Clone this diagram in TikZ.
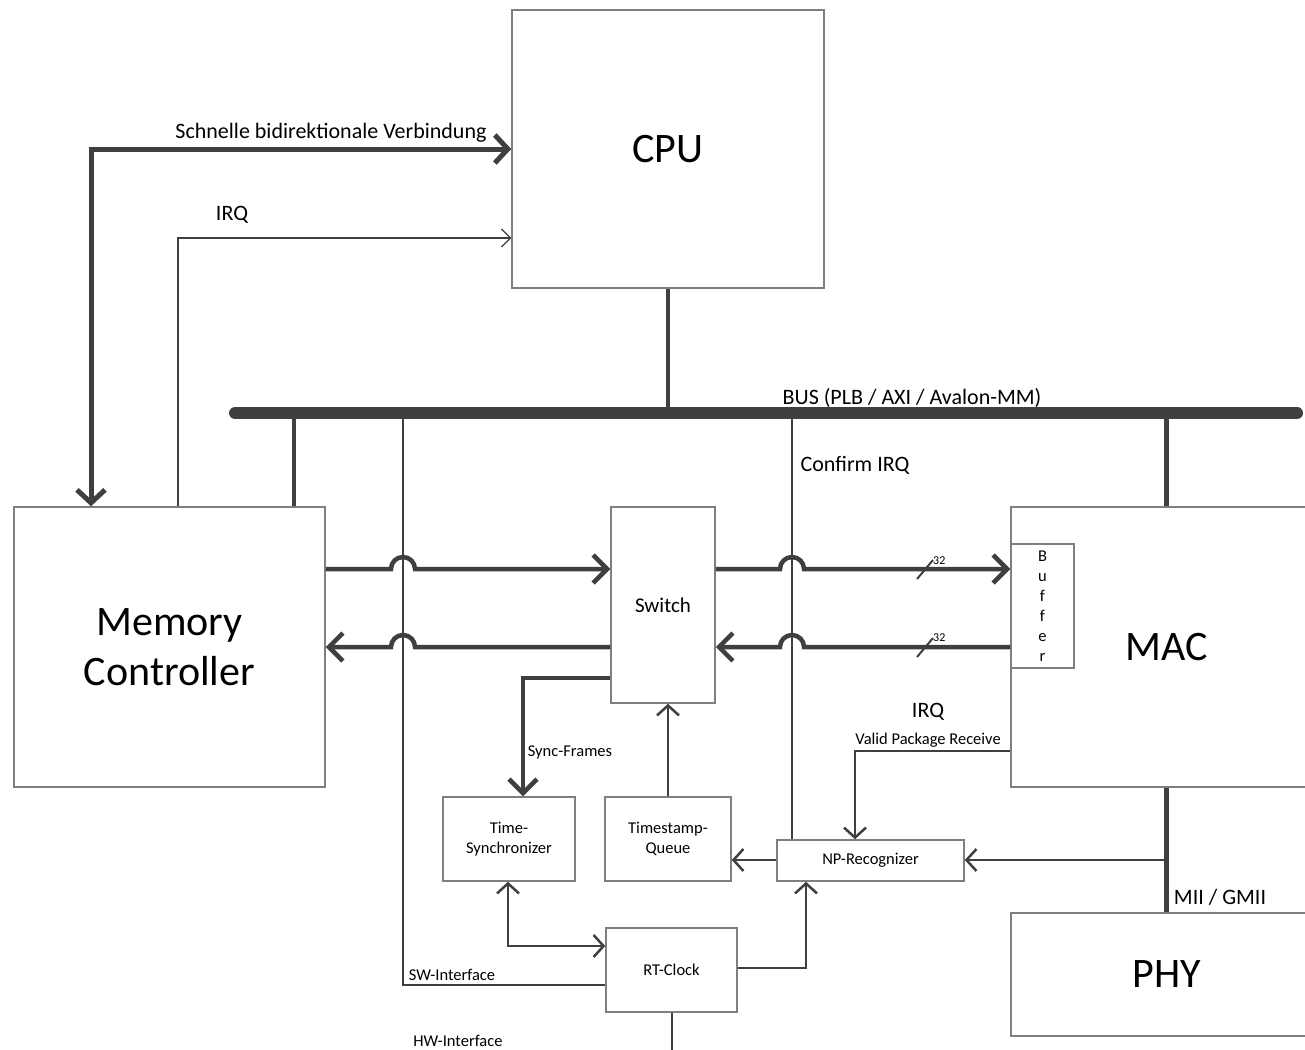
\documentclass[tikz,border=0pt]{standalone}
\usepackage{fontspec}
\setmainfont{Carlito}
\usepackage{tikz}
\usetikzlibrary{arrows.meta}
\definecolor{linegray}{HTML}{3F3F3F}
\definecolor{boxgray}{HTML}{7F7F7F}

\tikzset{
  block/.style={draw=boxgray,line width=1.5pt,inner sep=0pt,align=center},
  bigblock/.style={block,font=\fontsize{42}{50}\selectfont},
  midblock/.style={block,font=\fontsize{21}{25}\selectfont},
  smallblock/.style={block,font=\fontsize{16.5}{20}\selectfont},
  lbl/.style={inner sep=0pt,font=\fontsize{22}{26}\selectfont},
  smalllbl/.style={inner sep=0pt,font=\fontsize{16.5}{20}\selectfont},
  tinylbl/.style={inner sep=0pt,anchor=west,font=\fontsize{12}{13}\selectfont},
  fat/.style={draw=linegray,line width=4.5pt},
  thin/.style={draw=linegray,line width=2.5pt},
  hair/.style={draw=linegray,line width=1.1pt},
  bus/.style={draw=linegray,line width=12pt,line cap=round},
  fatarr/.style={-{Straight Barb[length=14pt,width=28pt]}},
  fatarrs/.style={{Straight Barb[length=13pt,width=28pt]}-{Straight Barb[length=13pt,width=28pt]}},
  thinarr/.style={-{Straight Barb[length=10pt,width=22pt]}},
  thinarrs/.style={{Straight Barb[length=10pt,width=22pt]}-{Straight Barb[length=10pt,width=22pt]}},
  hairarr/.style={-{Straight Barb[length=9pt,width=18pt]}}
}

\begin{document}
\begin{tikzpicture}[x=1pt,y=-1pt]
  \useasboundingbox (0,0) rectangle (1305,1049);
  \clip (0,0) rectangle (1305,1049);

  % blocks
  \node[bigblock,minimum width=312pt,minimum height=278pt] (cpu) at (668,149) {CPU};
  \node[bigblock,minimum width=311pt,minimum height=280pt] (mc) at (169.5,647) {Memory\\Controller};
  \node[bigblock,minimum width=311pt,minimum height=280pt] (mac) at (1166.5,647) {MAC};
  \node[bigblock,minimum width=311pt,minimum height=123pt] (phy) at (1166.5,974.5) {PHY};
  \node[midblock,minimum width=104pt,minimum height=196pt] (sw) at (663,605) {Switch};
  \node[smallblock,fill=white,minimum width=63pt,minimum height=124pt] (buf) at (1042.5,606) {B\\u\\f\\f\\e\\r};
  \node[smallblock,minimum width=132pt,minimum height=84pt] (ts) at (509,839) {Time-\\Synchronizer};
  \node[smallblock,minimum width=126pt,minimum height=84pt] (tq) at (668,839) {Timestamp-\\Queue};
  \node[smallblock,minimum width=187pt,minimum height=41pt] (np) at (870.5,860.5) {NP-Recognizer};
  \node[smallblock,minimum width=131pt,minimum height=84pt] (rtc) at (671.5,970) {RT-Clock};

  % bus
  \coordinate (busL) at (235,413);
  \coordinate (busR) at (1297,413);
  \draw[bus] (busL) -- (busR);
  \node[lbl] (buslbl) at (912,398) {BUS (PLB / AXI / Avalon-MM)};
  \draw[fat] (cpu.south) -- (cpu.south |- busL);
  \draw[fat] (mc.north -| 294,0) -- (busL -| 294,0);
  \draw[fat] (mac.north) -- (mac.north |- busL);

  % cpu <-> memory controller
  \draw[fat,line width=5pt,fatarrs] (mc.north -| 91,0) |- (cpu.west);
  \node[lbl] (fastlbl) at (331,133) {Schnelle bidirektionale Verbindung};
  \draw[hair,hairarr] (mc.north -| 178,0) |- (cpu.west |- 0,238);
  \node[lbl] (irqlbl) at (232,215) {IRQ};

  % software interface and confirm irq
  \draw[thin] (busL -| 403,0) |- (rtc.west |- 0,985);
  \node[smalllbl] (swlbl) at (452,975) {SW-Interface};
  \draw[thin] (busL -| 792,0) -- (np.north -| 792,0);
  \node[lbl] (conflbl) at (855,465) {Confirm IRQ};

  % data paths with hops
  \draw[fat,fatarr] (mc.east |- 0,569) -- (391,569) arc[start angle=180,end angle=0,radius=12pt] -- (sw.west |- 0,569);
  \draw[fat,fatarr] (sw.west |- 0,647) -- (415,647) arc[start angle=0,end angle=180,radius=12pt] -- (mc.east |- 0,647);
  \draw[fat,fatarr] (sw.east |- 0,569) -- (780,569) arc[start angle=180,end angle=0,radius=12pt] -- (buf.west |- 0,569);
  \draw[fat,fatarr] (buf.west |- 0,647) -- (804,647) arc[start angle=0,end angle=180,radius=12pt] -- (sw.east |- 0,647);
  \draw[thin,line width=2pt] (917,579) -- (933,560);
  \node[tinylbl] (w1) at (933,561) {32};
  \draw[thin,line width=2pt] (917,657) -- (933,638);
  \node[tinylbl] (w2) at (933,638) {32};

  % sync path
  \draw[fat,fatarr] (sw.west |- 0,678) -| (ts.north -| 523,0);
  \node[smalllbl] (synclbl) at (570,752) {Sync-Frames};
  \draw[thin,thinarr] (tq.north -| 668,0) -- (sw.south -| 668,0);
  \draw[thin,thinarr] (np.west |- 0,860) -- (tq.east |- 0,860);

  % mac irq
  \draw[thin,thinarr] (mac.west |- 0,751) -| (np.north -| 855,0);
  \node[lbl] (macirq) at (928,712) {IRQ};
  \node[smalllbl] (validlbl) at (928,740) {Valid Package Receive};

  % mii
  \draw[fat] (mac.south) -- (phy.north);
  \node[lbl] (miilbl) at (1220,897) {MII / GMII};
  \coordinate (mii) at (1166.5,860);
  \draw[thin,thinarr] (mii) -- (np.east |- mii);

  % rt clock
  \draw[thin,thinarr] (rtc.east |- 0,968) -| (np.south -| 806,0);
  \draw[thin,thinarrs] (ts.south -| 508,0) |- (rtc.west |- 0,946);
  \coordinate (hwend) at (672,1055);
  \draw[thin] (rtc.south -| 672,0) -- (hwend);
  \node[smalllbl] (hwlbl) at (458,1041) {HW-Interface};
\end{tikzpicture}
\end{document}
